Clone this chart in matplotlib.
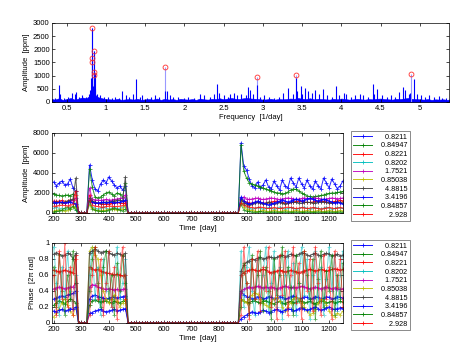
import numpy as np
import matplotlib
matplotlib.use('Agg')
import matplotlib.pyplot as plt

plt.rcParams['font.family'] = ['Liberation Sans', 'DejaVu Sans']
plt.rcParams['font.size'] = 5.5

# --- periodogram ---------------------------------------------------------
# noise floor sampled every 0.05 1/day from 0.30 to 5.40
floor_amp = [120, 90, 140, 80, 110, 150, 90, 130, 170, 140,
             250, 300, 180, 140, 110, 100, 90, 120, 80, 100,
             110, 90, 120, 80, 100, 110, 90, 130, 80, 120,
             90, 110, 80, 120, 100, 90, 110, 80, 130, 100,
             90, 120, 110, 140, 100, 130, 150, 120, 110, 140,
             150, 130, 120, 110, 90, 100, 120, 90, 110, 100,
             110, 130, 120, 150, 120, 110, 140, 100, 120, 110,
             100, 90, 120, 100, 130, 110, 90, 100, 120, 100,
             90, 110, 100, 120, 130, 110, 100, 90, 120, 110,
             130, 150, 120, 110, 100, 90, 110, 80, 100, 90,
             100, 80, 110]
floor_freq = np.linspace(0.30, 5.40, len(floor_amp))

spike_freq = [0.35, 0.40, 0.42, 0.47, 0.52, 0.57, 0.60, 0.62, 0.66, 0.70,
              0.74, 0.78, 0.80, 0.815, 0.8211, 0.83, 0.845, 0.8495, 0.855, 0.865,
              0.88, 0.92, 0.97, 1.02, 1.08, 1.12, 1.16, 1.21, 1.26, 1.30,
              1.34, 1.38, 1.43, 1.46, 1.52, 1.58, 1.63, 1.68, 1.75, 1.78,
              1.82, 1.86, 1.92, 2.00, 2.05, 2.12, 2.20, 2.25, 2.32, 2.38,
              2.42, 2.44, 2.50, 2.55, 2.58, 2.63, 2.67, 2.72, 2.78, 2.81,
              2.84, 2.87, 2.928, 2.96, 3.02, 3.08, 3.14, 3.20, 3.26, 3.32,
              3.38, 3.42, 3.44, 3.48, 3.50, 3.54, 3.58, 3.63, 3.67, 3.72,
              3.76, 3.82, 3.88, 3.93, 3.97, 4.04, 4.06, 4.12, 4.18, 4.24,
              4.28, 4.34, 4.40, 4.42, 4.46, 4.52, 4.58, 4.63, 4.68, 4.74,
              4.79, 4.81, 4.86, 4.88, 4.92, 4.96, 5.02, 5.06, 5.12, 5.18,
              5.24, 5.28, 5.33]
spike_amp = [150, 650, 300, 150, 200, 350, 300, 380, 200, 250,
             200, 300, 450, 900, 2820, 600, 700, 1930, 1100, 500,
             300, 250, 200, 180, 150, 200, 150, 400, 250, 200,
             300, 880, 200, 250, 150, 200, 250, 200, 400, 420,
             250, 200, 180, 150, 200, 150, 300, 250, 200, 300,
             680, 350, 250, 200, 300, 350, 250, 300, 250, 550,
             450, 300, 650, 200, 250, 200, 150, 200, 350, 520,
             300, 900, 400, 620, 300, 520, 400, 350, 450, 300,
             480, 250, 200, 600, 250, 350, 300, 200, 250, 300,
             250, 200, 680, 300, 500, 250, 200, 250, 200, 380,
             580, 450, 300, 350, 870, 300, 250, 200, 250, 200,
             220, 150, 150]

labels = ['0.8211', '0.84947', '0.8221', '0.8202', '1.7521',
          '0.85038', '4.8815', '3.4196', '0.84857', '2.928']
peak_freq = [0.8211, 0.84947, 0.8221, 0.8202, 1.7521,
             0.85038, 4.8815, 3.4196, 0.84857, 2.928]
peak_amp = [2820, 1930, 1660, 1510, 1320, 1130, 1070, 1030, 1010, 940]

# --- time series: three observing segments, zeros in the gaps -------------
t_seg1 = np.arange(200, 281, 10)      # 9 points
t_gap1 = np.arange(290, 321, 10)      # 4 points
t_seg2 = np.arange(330, 461, 10)      # 14 points
t_gap2 = np.arange(470, 871, 10)      # 41 points
t_seg3 = np.arange(880, 1251, 10)     # 38 points

amp_s1 = [
    [3100, 2700, 3000, 3200, 2800, 2900, 3400, 2500, 2200],
    [1900, 1800, 1750, 1700, 1750, 1800, 1700, 1900, 600],
    [1200, 1150, 1200, 1250, 1100, 1200, 1300, 1250, 2200],
    [500, 600, 400, 500, 300, 400, 500, 600, 300],
    [1000, 1050, 1100, 1050, 1000, 1100, 1200, 1300, 1500],
    [200, 250, 300, 250, 200, 300, 400, 600, 500],
    [1000, 1100, 1050, 1000, 1100, 1200, 1300, 1400, 3500],
    [1100, 1000, 1050, 1100, 1000, 1050, 1100, 1000, 900],
    [100, 150, 200, 300, 500, 600, 400, 700, 300],
    [700, 700, 750, 800, 750, 700, 800, 900, 1800],
]
amp_s2 = [
    [4800, 3300, 2400, 2200, 2900, 3300, 3000, 3600, 3200, 2800, 2500, 2700, 2300, 2700],
    [4400, 2600, 1600, 1500, 1600, 1800, 2000, 2100, 1900, 1700, 2000, 1900, 1600, 3000],
    [1800, 1100, 1000, 950, 900, 850, 900, 900, 950, 1000, 1100, 1000, 950, 1200],
    [900, 600, 500, 400, 500, 600, 500, 400, 500, 600, 400, 500, 600, 700],
    [2500, 1400, 1300, 1300, 1250, 1300, 1350, 1300, 1300, 1350, 1400, 1450, 1500, 1800],
    [800, 500, 300, 250, 200, 250, 300, 350, 400, 350, 300, 350, 400, 800],
    [1500, 1200, 1100, 1000, 1000, 1050, 1100, 1100, 1150, 1200, 1250, 1300, 1200, 3600],
    [1300, 1100, 1000, 1000, 1050, 1100, 1000, 1050, 1100, 1000, 1050, 1100, 1200, 1300],
    [1200, 400, 300, 200, 200, 150, 200, 300, 400, 500, 400, 300, 200, 400],
    [1300, 800, 700, 650, 600, 600, 650, 700, 700, 650, 650, 700, 750, 1000],
]
amp_s3 = [
    [7000, 4700, 4300, 3400, 2700, 2500, 3100, 2500, 2800, 3300,
     2600, 2400, 3200, 2700, 2300, 3300, 2700, 2500, 3500, 3000,
     2600, 3500, 2900, 2500, 3300, 2700, 2400, 3200, 2700, 2400,
     3500, 3000, 2500, 3400, 2900, 2400, 2700, 3200],
    [6800, 4200, 3500, 3000, 2900, 2800, 2700, 2600, 2500, 2400,
     2300, 2200, 2100, 2000, 2000, 1900, 1950, 2100, 2300, 2400,
     2350, 2200, 2000, 1850, 1700, 1650, 1600, 1650, 1700, 1750,
     1800, 1900, 1950, 2000, 2000, 2050, 2100, 2150],
    [1300, 1150, 1050, 1000, 1000, 1050, 1100, 1050, 1000, 1000,
     1050, 1100, 1150, 1200, 1100, 1050, 1000, 1000, 1050, 1100,
     1150, 1200, 1150, 1100, 1050, 1050, 1100, 1150, 1150, 1200,
     1150, 1100, 1050, 1100, 1150, 1200, 1250, 1200],
    [1500, 800, 600, 500, 400, 450, 550, 500, 400, 450,
     550, 500, 400, 450, 600, 500, 400, 450, 550, 500,
     400, 450, 550, 600, 450, 400, 500, 550, 450, 400,
     500, 600, 500, 400, 450, 550, 500, 450],
    [1500, 1600, 1400, 1350, 1400, 1450, 1500, 1400, 1350, 1400,
     1450, 1500, 1450, 1400, 1350, 1400, 1450, 1500, 1450, 1400,
     1350, 1400, 1450, 1500, 1450, 1400, 1450, 1500, 1450, 1400,
     1350, 1400, 1450, 1500, 1450, 1400, 1450, 1500],
    [1200, 600, 400, 300, 250, 200, 150, 200, 250, 200,
     150, 200, 250, 200, 150, 200, 250, 200, 150, 200,
     250, 200, 150, 200, 250, 200, 150, 200, 250, 200,
     150, 200, 250, 200, 150, 200, 250, 200],
    [1400, 1000, 900, 800, 900, 1000, 1100, 1000, 900, 1000,
     1100, 1000, 900, 1000, 1100, 1000, 900, 1000, 1050, 1100,
     1050, 1000, 1000, 1050, 1100, 1050, 1000, 1000, 1050, 1100,
     1100, 1050, 1000, 1000, 1050, 1100, 1050, 1000],
    [1600, 1200, 1000, 900, 1000, 1100, 1200, 1100, 1000, 900,
     800, 900, 1000, 1100, 1200, 1300, 1200, 1100, 1200, 1300,
     1400, 1300, 1200, 1300, 1400, 1500, 1400, 1300, 1200, 1300,
     1400, 1300, 1200, 1100, 1000, 1100, 1000, 900],
    [900, 300, 200, 150, 100, 100, 100, 150, 100, 100,
     80, 100, 120, 100, 80, 100, 120, 100, 80, 100,
     120, 100, 80, 100, 120, 100, 80, 100, 120, 100,
     80, 100, 120, 100, 80, 100, 120, 100],
    [1000, 800, 700, 600, 550, 500, 550, 600, 550, 500,
     450, 500, 550, 500, 450, 500, 550, 600, 550, 500,
     450, 500, 550, 500, 450, 500, 550, 500, 450, 400,
     450, 500, 550, 500, 450, 500, 550, 500],
]

ph_s1 = [
    [0.30, 0.31, 0.33, 0.34, 0.33, 0.35, 0.36, 0.37, 0.40],
    [0.22, 0.25, 0.28, 0.26, 0.24, 0.27, 0.30, 0.28, 0.25],
    [0.66, 0.65, 0.64, 0.65, 0.66, 0.65, 0.64, 0.63, 0.85],
    [0.95, 0.50, 0.10, 0.70, 0.30, 0.90, 0.40, 0.20, 0.60],
    [0.43, 0.44, 0.45, 0.44, 0.43, 0.44, 0.45, 0.45, 0.50],
    [0.08, 0.12, 0.18, 0.25, 0.30, 0.22, 0.15, 0.10, 0.20],
    [0.86, 0.88, 0.86, 0.84, 0.85, 0.87, 0.86, 0.80, 0.87],
    [0.15, 0.14, 0.16, 0.17, 0.15, 0.16, 0.18, 0.17, 0.20],
    [0.70, 0.20, 0.85, 0.40, 0.10, 0.60, 0.30, 0.90, 0.50],
    [0.60, 0.10, 0.90, 0.30, 1.00, 0.20, 0.70, 0.10, 0.80],
]
ph_s2 = [
    [0.30, 0.34, 0.35, 0.33, 0.32, 0.31, 0.30, 0.31, 0.32, 0.33, 0.31, 0.32, 0.33, 0.34],
    [0.22, 0.28, 0.29, 0.27, 0.26, 0.27, 0.28, 0.26, 0.25, 0.27, 0.26, 0.25, 0.27, 0.28],
    [0.70, 0.68, 0.66, 0.67, 0.65, 0.64, 0.63, 0.62, 0.61, 0.60, 0.61, 0.60, 0.59, 0.60],
    [0.60, 0.95, 0.30, 0.70, 0.10, 0.80, 0.40, 0.90, 0.20, 0.60, 0.95, 0.30, 0.50, 0.80],
    [0.45, 0.48, 0.47, 0.45, 0.44, 0.43, 0.42, 0.43, 0.42, 0.41, 0.42, 0.41, 0.42, 0.43],
    [0.90, 0.95, 0.85, 0.80, 0.60, 0.40, 0.30, 0.25, 0.30, 0.35, 0.28, 0.20, 0.25, 0.30],
    [0.88, 0.90, 0.92, 0.90, 0.88, 0.89, 0.90, 0.88, 0.86, 0.85, 0.87, 0.86, 0.84, 0.87],
    [0.12, 0.13, 0.15, 0.16, 0.17, 0.15, 0.14, 0.15, 0.16, 0.17, 0.15, 0.16, 0.17, 0.18],
    [0.40, 0.80, 0.95, 0.50, 0.20, 0.70, 0.90, 0.30, 0.60, 0.10, 0.75, 0.40, 0.85, 0.50],
    [0.10, 0.60, 0.95, 0.30, 0.80, 0.10, 0.50, 0.90, 0.20, 0.70, 0.05, 0.60, 0.95, 0.30],
]
ph_s3 = [
    [0.40, 0.35, 0.33, 0.32, 0.30, 0.31, 0.33, 0.32, 0.30, 0.31,
     0.33, 0.32, 0.30, 0.31, 0.33, 0.32, 0.30, 0.31, 0.33, 0.34,
     0.32, 0.30, 0.31, 0.33, 0.32, 0.30, 0.31, 0.33, 0.32, 0.30,
     0.31, 0.33, 0.32, 0.30, 0.31, 0.33, 0.32, 0.31],
    [0.30, 0.27, 0.26, 0.25, 0.27, 0.28, 0.26, 0.25, 0.27, 0.28,
     0.26, 0.25, 0.24, 0.26, 0.27, 0.25, 0.24, 0.26, 0.27, 0.25,
     0.26, 0.28, 0.27, 0.25, 0.26, 0.27, 0.25, 0.24, 0.26, 0.28,
     0.27, 0.25, 0.26, 0.27, 0.25, 0.26, 0.27, 0.26],
    [0.60, 0.63, 0.65, 0.66, 0.67, 0.66, 0.65, 0.66, 0.67, 0.66,
     0.64, 0.63, 0.64, 0.65, 0.66, 0.65, 0.64, 0.65, 0.66, 0.65,
     0.64, 0.63, 0.64, 0.65, 0.66, 0.67, 0.66, 0.65, 0.66, 0.67,
     0.66, 0.65, 0.66, 0.67, 0.68, 0.67, 0.66, 0.67],
    [0.90, 0.20, 0.70, 0.95, 0.40, 0.10, 0.80, 0.30, 0.60, 0.95,
     0.15, 0.50, 0.90, 0.20, 0.70, 0.05, 0.60, 0.90, 0.30, 0.75,
     0.10, 0.50, 0.95, 0.35, 0.80, 0.05, 0.60, 0.90, 0.25, 0.70,
     0.10, 0.55, 0.95, 0.40, 0.85, 0.15, 0.60, 0.90],
    [0.38, 0.42, 0.44, 0.45, 0.44, 0.45, 0.46, 0.45, 0.44, 0.45,
     0.44, 0.45, 0.44, 0.43, 0.44, 0.45, 0.46, 0.45, 0.44, 0.45,
     0.44, 0.45, 0.46, 0.45, 0.44, 0.43, 0.44, 0.45, 0.44, 0.43,
     0.44, 0.45, 0.44, 0.43, 0.44, 0.43, 0.42, 0.43],
    [0.30, 0.28, 0.25, 0.30, 0.35, 0.38, 0.36, 0.30, 0.25, 0.22,
     0.20, 0.25, 0.30, 0.32, 0.28, 0.20, 0.15, 0.20, 0.25, 0.30,
     0.32, 0.30, 0.25, 0.20, 0.15, 0.10, 0.12, 0.18, 0.25, 0.30,
     0.28, 0.22, 0.15, 0.10, 0.08, 0.12, 0.10, 0.15],
    [0.65, 0.72, 0.76, 0.78, 0.80, 0.79, 0.81, 0.82, 0.80, 0.81,
     0.83, 0.82, 0.81, 0.82, 0.84, 0.85, 0.83, 0.84, 0.86, 0.85,
     0.84, 0.86, 0.88, 0.87, 0.85, 0.84, 0.86, 0.87, 0.85, 0.84,
     0.86, 0.87, 0.86, 0.84, 0.85, 0.86, 0.84, 0.85],
    [0.05, 0.08, 0.10, 0.12, 0.14, 0.13, 0.12, 0.14, 0.16, 0.15,
     0.13, 0.14, 0.16, 0.17, 0.15, 0.14, 0.16, 0.18, 0.17, 0.15,
     0.16, 0.18, 0.19, 0.17, 0.16, 0.17, 0.19, 0.20, 0.18, 0.16,
     0.17, 0.19, 0.20, 0.18, 0.17, 0.18, 0.19, 0.18],
    [0.20, 0.75, 0.50, 0.10, 0.85, 0.30, 0.60, 0.90, 0.15, 0.70,
     0.40, 0.05, 0.80, 0.35, 0.60, 0.95, 0.25, 0.70, 0.45, 0.10,
     0.85, 0.50, 0.20, 0.90, 0.60, 0.30, 0.80, 0.05, 0.55, 0.90,
     0.20, 0.65, 0.40, 0.85, 0.10, 0.60, 0.30, 0.75],
    [0.10, 0.95, 0.50, 0.05, 0.80, 0.30, 0.90, 0.15, 0.70, 0.40,
     0.95, 0.20, 0.65, 0.05, 0.85, 0.35, 0.90, 0.10, 0.60, 0.95,
     0.25, 0.75, 0.05, 0.90, 0.40, 0.80, 0.15, 0.95, 0.50, 0.10,
     0.85, 0.30, 0.70, 0.05, 0.90, 0.45, 0.80, 0.20],
]

# old MATLAB line colour order
colors = [(0, 0, 1), (0, 0.5, 0), (1, 0, 0), (0, 0.75, 0.75), (0.75, 0, 0.75),
          (0.75, 0.75, 0), (0.25, 0.25, 0.25), (0, 0, 1), (0, 0.5, 0), (1, 0, 0)]
# steady series are drawn stronger than the scattered ones
alphas = [0.85, 0.8, 0.85, 0.55, 0.85, 0.7, 0.85, 0.85, 0.6, 0.55]


def full_series(s1, s2, s3):
    return np.concatenate([s1, [0] * len(t_gap1), s2, [0] * len(t_gap2), s3])


t_all = np.concatenate([t_seg1, t_gap1, t_seg2, t_gap2, t_seg3])


def style_axes(ax):
    ax.tick_params(direction='in', length=2.5, width=0.5, top=True, right=True,
                   labelsize=5.5)
    ax.tick_params(axis='x', pad=2.5)
    ax.tick_params(axis='y', pad=1.5)
    for s in ax.spines.values():
        s.set_linewidth(0.5)


def add_legend(ax, y_top):
    leg = ax.legend(loc='upper left', bbox_to_anchor=(0.745, y_top),
                    bbox_transform=fig.transFigure, fontsize=5.2, frameon=True,
                    fancybox=False, edgecolor='#555555', handlelength=2.6,
                    labelspacing=0.22, borderpad=0.35, handletextpad=0.6,
                    borderaxespad=0)
    leg.get_frame().set_linewidth(0.6)
    for h in leg.legend_handles:
        h.set_alpha(0.9)
    return leg


fig = plt.figure(figsize=(4.71, 3.48), dpi=100)

# top: periodogram
ax1 = fig.add_axes([0.110, 0.707, 0.843, 0.227])
ax1.fill_between(floor_freq, 0, floor_amp, color='#0000ff', lw=0.4)
ax1.vlines(peak_freq, 0, peak_amp, color='#9999ff', lw=0.8)
ax1.vlines(spike_freq, 0, spike_amp, color='#0000ff', lw=0.8)
ax1.plot(peak_freq, peak_amp, 'o', mfc='none', mec='#ff3030', ms=3.5, mew=0.6)
ax1.set_xlim(0.31, 5.37)
ax1.set_ylim(0, 3000)
ax1.set_xticks([0.5, 1, 1.5, 2, 2.5, 3, 3.5, 4, 4.5, 5])
ax1.set_xticklabels(['0.5', '1', '1.5', '2', '2.5', '3', '3.5', '4', '4.5', '5'])
ax1.set_yticks(range(0, 3001, 500))
ax1.set_xlabel('Frequency  [1/day]', labelpad=1)
ax1.set_ylabel('Amplitude  [ppm]', labelpad=2)
style_axes(ax1)

pad_labels = ['\u2007' * (7 - len(l.replace('.', ''))) + l for l in labels]

# middle: amplitude vs time
ax2 = fig.add_axes([0.110, 0.388, 0.618, 0.230])
for i in range(len(labels)):
    y = full_series(amp_s1[i], amp_s2[i], amp_s3[i])
    ax2.plot(t_all, y, '-+', color=colors[i], lw=0.7, ms=3, mew=0.6,
             alpha=alphas[i], label=pad_labels[i])
ax2.set_xlim(193, 1250)
ax2.set_ylim(0, 8000)
ax2.set_xticks(range(200, 1201, 100))
ax2.set_yticks(range(0, 8001, 2000))
ax2.set_xlabel('Time  [day]', labelpad=1)
ax2.set_ylabel('Amplitude  [ppm]', labelpad=2)
style_axes(ax2)
add_legend(ax2, 0.623)

# bottom: phase vs time
ax3 = fig.add_axes([0.110, 0.072, 0.618, 0.230])
for i in range(len(labels)):
    y = full_series(ph_s1[i], ph_s2[i], ph_s3[i])
    ax3.plot(t_all, y, '-+', color=colors[i], lw=0.7, ms=3, mew=0.6,
             alpha=alphas[i], label=pad_labels[i])
ax3.set_xlim(193, 1250)
ax3.set_ylim(0, 1)
ax3.set_xticks(range(200, 1201, 100))
ax3.set_yticks([0, 0.2, 0.4, 0.6, 0.8, 1])
ax3.set_yticklabels(['0', '0.2', '0.4', '0.6', '0.8', '1'])
ax3.set_xlabel('Time  [day]', labelpad=1)
ax3.set_ylabel('Phase  [2\u03c0 rad]', labelpad=2)
style_axes(ax3)
add_legend(ax3, 0.310)

fig.savefig('out.png', dpi=100)
